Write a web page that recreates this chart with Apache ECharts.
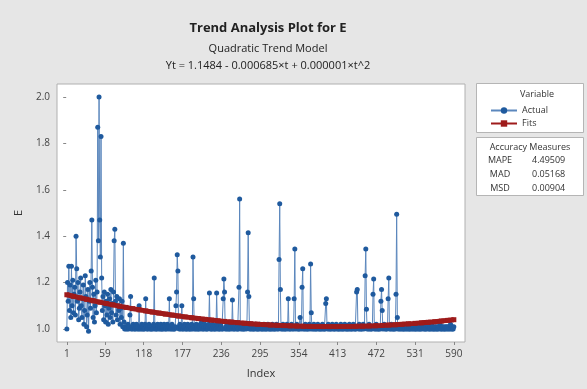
<!DOCTYPE html>
<html><head><meta charset="utf-8">
<script src="https://cdn.jsdelivr.net/npm/echarts@6/dist/echarts.min.js"></script>
<style>html,body{margin:0;padding:0;background:#e6e6e6}#c{width:587px;height:389px}</style>
</head><body><div id="c"></div>
<script>
const actual = [
1.00,1.20,1.12,1.27,1.08,1.19,1.05,1.27,1.10,1.21,
1.07,1.15,1.18,1.06,1.40,1.26,1.12,1.20,1.04,1.09,
1.16,1.22,1.10,1.05,1.13,1.19,1.02,1.08,1.23,1.14,
1.01,1.06,1.17,0.99,1.12,1.20,1.09,1.25,1.47,1.18,
1.05,1.15,1.03,1.10,1.21,1.07,1.16,1.87,1.38,2.00,
1.47,1.31,1.83,1.22,1.08,1.14,1.04,1.16,1.10,1.03,
1.12,1.06,1.15,1.02,1.09,1.13,1.05,1.17,1.07,1.11,
1.03,1.16,1.38,1.43,1.12,1.06,1.14,1.04,1.10,1.08,
1.13,1.02,1.09,1.05,1.12,1.01,1.37,1.03,1.00,1.01,
1.00,1.01,1.00,1.02,1.00,1.01,1.06,1.14,1.00,1.01,
1.00,1.02,1.01,1.00,1.00,1.01,1.02,1.00,1.01,1.00,
1.10,1.00,1.01,1.00,1.02,1.00,1.01,1.00,1.00,1.02,
1.13,1.01,1.00,1.00,1.01,1.02,1.00,1.01,1.00,1.00,
1.01,1.00,1.02,1.22,1.00,1.01,1.00,1.00,1.02,1.01,
1.00,1.01,1.00,1.02,1.00,1.00,1.01,1.00,1.02,1.01,
1.00,1.00,1.01,1.02,1.00,1.01,1.13,1.00,1.01,1.00,
1.02,1.00,1.01,1.00,1.00,1.01,1.10,1.16,1.32,1.25,
1.01,1.00,1.02,1.00,1.01,1.10,1.00,1.00,1.01,1.02,
1.00,1.01,1.00,1.00,1.02,1.01,1.00,1.00,1.01,1.00,
1.02,1.00,1.31,1.13,1.00,1.01,1.00,1.02,1.00,1.01,
1.00,1.00,1.01,1.02,1.00,1.03,1.01,1.00,1.00,1.01,
1.02,1.00,1.01,1.00,1.00,1.01,1.02,1.155,1.00,1.01,
1.00,1.00,1.02,1.01,1.00,1.00,1.01,1.00,1.155,1.02,
1.00,1.01,1.00,1.00,1.02,1.01,1.00,1.00,1.13,1.215,
1.16,1.00,1.01,1.00,1.02,1.00,1.01,1.00,1.00,1.01,
1.02,1.00,1.125,1.01,1.00,1.00,1.01,1.02,1.00,1.01,
1.00,1.00,1.18,1.56,1.01,1.00,1.02,1.00,1.01,1.00,
1.00,1.01,1.02,1.00,1.01,1.16,1.415,1.14,1.00,1.01,
1.00,1.02,1.00,1.01,1.00,1.00,1.01,1.02,1.00,1.01,
1.00,1.00,1.01,1.00,1.02,1.01,1.00,1.00,1.01,1.00,
1.02,1.00,1.01,1.00,1.00,1.01,1.02,1.00,1.01,1.00,
1.00,1.01,1.00,1.02,1.00,1.01,1.00,1.00,1.01,1.02,
1.00,1.01,1.00,1.30,1.54,1.17,1.00,1.01,1.00,1.02,
1.00,1.01,1.00,1.00,1.01,1.02,1.00,1.13,1.01,1.00,
1.00,1.01,1.02,1.00,1.01,1.00,1.13,1.345,1.00,1.01,
1.02,1.00,1.01,1.00,1.00,1.05,1.01,1.00,1.18,1.26,
1.00,1.01,1.00,1.02,1.00,1.01,1.00,1.00,1.01,1.02,
1.00,1.28,1.07,1.00,1.01,1.00,1.02,1.00,1.01,1.00,
1.00,1.01,1.02,1.00,1.01,1.00,1.00,1.01,1.00,1.02,
1.00,1.01,1.00,1.00,1.11,1.13,1.01,1.00,1.02,1.00,
1.01,1.00,1.00,1.01,1.02,1.00,1.01,1.00,1.00,1.01,
1.02,1.00,1.01,1.00,1.00,1.01,1.00,1.02,1.00,1.01,
1.00,1.00,1.01,1.02,1.00,1.01,1.00,1.00,1.01,1.00,
1.02,1.00,1.01,1.00,1.00,1.01,1.02,1.00,1.01,1.00,
1.00,1.16,1.17,1.01,1.00,1.02,1.00,1.01,1.00,1.00,
1.01,1.02,1.00,1.01,1.23,1.345,1.085,1.00,1.01,1.00,
1.02,1.00,1.01,1.00,1.00,1.01,1.15,1.215,1.00,1.01,
1.00,1.02,1.00,1.01,1.00,1.00,1.01,1.00,1.12,1.17,
1.08,1.00,1.01,1.02,1.00,1.01,1.00,1.00,1.01,1.13,
1.22,1.00,1.01,1.00,1.02,1.00,1.01,1.00,1.00,1.01,
1.00,1.15,1.495,1.05,1.00,1.01,1.00,1.01,1.00,1.01,
1.00,1.01,1.00,1.00,1.01,1.00,1.02,1.00,1.01,1.00,
1.01,1.00,1.00,1.01,1.00,1.01,1.00,1.02,1.00,1.01,
1.00,1.00,1.01,1.00,1.01,1.00,1.01,1.00,1.00,1.01,
1.00,1.01,1.02,1.00,1.01,1.00,1.00,1.01,1.00,1.01,
1.01,1.00,1.00,1.01,1.00,1.02,1.00,1.01,1.00,1.00,
1.01,1.00,1.01,1.00,1.00,1.01,1.00,1.01,1.02,1.00,
1.00,1.01,1.00,1.01,1.00,1.00,1.01,1.00,1.01,1.00,
1.01,1.00,1.01,1.00,1.02,1.00,1.01,1.00,1.00,1.01
];
const fitIndex = [1,11,21,31,41,51,61,71,81,91,101,111,121,131,141,151,161,171,181,191,201,211,221,231,241,251,261,271,281,291,301,311,321,331,341,351,361,371,381,391,401,411,421,431,441,451,461,471,481,491,501,511,521,531,541,551,561,571,581,590];
const fitValues = [1.1477,1.1410,1.1344,1.1280,1.1217,1.1157,1.1098,1.1041,1.0985,1.0931,1.0879,1.0828,1.0780,1.0733,1.0687,1.0643,1.0601,1.0561,1.0523,1.0486,1.0451,1.0417,1.0385,1.0355,1.0327,1.0300,1.0275,1.0252,1.0230,1.0210,1.0192,1.0176,1.0161,1.0148,1.0137,1.0127,1.0119,1.0113,1.0108,1.0105,1.0104,1.0104,1.0107,1.0111,1.0116,1.0124,1.0133,1.0143,1.0156,1.0170,1.0186,1.0203,1.0222,1.0243,1.0266,1.0290,1.0316,1.0344,1.0373,1.0401];
const xTicks = [1,59,118,177,236,295,354,413,472,531,590];
const yTicks = [1.0,1.2,1.4,1.6,1.8,2.0];
const measureNames = ['MAPE','MAD','MSD'];
const measureValues = ['4.49509','0.05168','0.00904'];

const FONT = '"Open Sans","Noto Sans",sans-serif';
const chart = echarts.init(document.getElementById('c'));
const actualData = actual.map((v, i) => [i + 1, v]);
const fitData = fitIndex.map((t, i) => [t, fitValues[i]]);

const graphics = [
  {type:'rect', shape:{x:476.5,y:83.5,width:107,height:49}, style:{fill:'#fff',stroke:'#b5b5b5',lineWidth:1}, z:0},
  {type:'rect', shape:{x:476.5,y:137.5,width:107,height:58}, style:{fill:'#fff',stroke:'#b5b5b5',lineWidth:1}, z:0},
  {type:'text', x:537, y:94, style:{text:'Variable', fill:'#333', font:'9px '+FONT, align:'center', verticalAlign:'middle'}},
  {type:'text', x:530, y:147, style:{text:'Accuracy Measures', fill:'#333', font:'9px '+FONT, align:'center', verticalAlign:'middle'}}
];
measureNames.forEach((n, i) => {
  graphics.push({type:'text', x:500, y:160 + i*14, style:{text:n, fill:'#333', font:'9px '+FONT, align:'center', verticalAlign:'middle'}});
  graphics.push({type:'text', x:532, y:160 + i*14, style:{text:measureValues[i], fill:'#333', font:'9px '+FONT, align:'left', verticalAlign:'middle'}});
});

chart.setOption({
  backgroundColor:'#e6e6e6',
  animation:false,
  title:[
    {text:'Trend Analysis Plot for E', left:263, top:17, textAlign:'center', textStyle:{fontFamily:FONT, fontSize:13, fontWeight:'bold', color:'#222'}},
    {text:'Quadratic Trend Model', left:263, top:38, textAlign:'center', textStyle:{fontFamily:FONT, fontSize:11, fontWeight:'normal', color:'#222'}},
    {text:'Yt = 1.1484 - 0.000685\u00d7t + 0.000001\u00d7t^2', left:263, top:55, textAlign:'center', textStyle:{fontFamily:FONT, fontSize:11, fontWeight:'normal', color:'#222'}}
  ],
  grid:{left:57, right:122, top:84, bottom:47, show:true, backgroundColor:'#fff', borderColor:'#b0b0b0', borderWidth:1},
  legend:{
    left:485, top:101, orient:'vertical', itemGap:4, itemWidth:26, itemHeight:8,
    textStyle:{fontFamily:FONT, fontSize:9, color:'#333'},
    data:['Actual','Fits']
  },
  xAxis:{
    type:'value', min:-14, max:607,
    name:'Index', nameLocation:'middle', nameGap:26,
    nameTextStyle:{fontFamily:FONT, fontSize:11, color:'#333'},
    axisLine:{show:false},
    axisTick:{show:true, length:3, lineStyle:{color:'#888'}, customValues:xTicks},
    axisLabel:{customValues:xTicks, fontFamily:FONT, fontSize:10, color:'#444', margin:7},
    splitLine:{show:false}
  },
  yAxis:{
    type:'value', min:0.944, max:2.056,
    name:'E', nameLocation:'middle', nameGap:33,
    nameTextStyle:{fontFamily:FONT, fontSize:11, color:'#333'},
    axisLine:{show:false},
    axisTick:{show:true, length:3, lineStyle:{color:'#888'}, customValues:yTicks},
    axisLabel:{customValues:yTicks, formatter:v => v.toFixed(1), fontFamily:FONT, fontSize:10, color:'#444', margin:7},
    splitLine:{show:false}
  },
  series:[
    {name:'Actual', type:'line', data:actualData, symbol:'circle', symbolSize:5, showAllSymbol:true,
     itemStyle:{color:'#1f5a9e'}, lineStyle:{color:'#5b87bd', width:1}, z:2},
    {name:'Fits', type:'line', data:fitData, symbol:'rect', symbolSize:5, showAllSymbol:true,
     itemStyle:{color:'#9e1b1b'}, lineStyle:{color:'#9e1b1b', width:5}, z:3}
  ],
  graphic:graphics
});
</script>
</body></html>
